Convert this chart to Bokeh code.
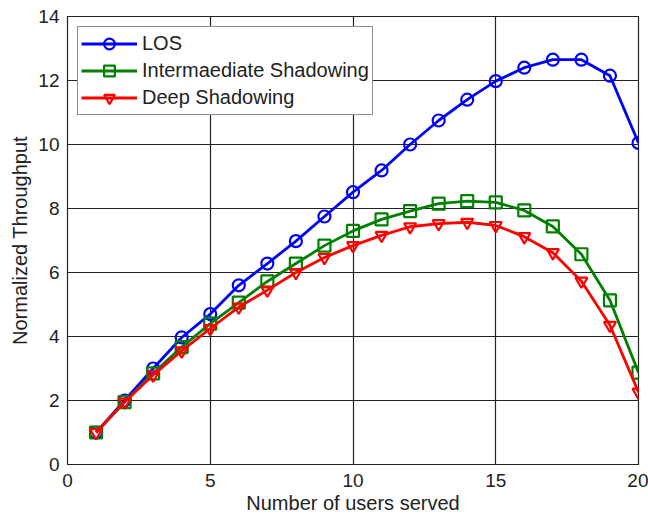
from bokeh.plotting import figure
from bokeh.models import Range1d, SingleIntervalTicker
from bokeh.embed import file_html
from bokeh.resources import INLINE

# Number of users served
users = list(range(1, 21))

# Normalized throughput per channel condition
los = [1.0, 2.0, 3.0, 3.97, 4.7, 5.6, 6.28, 6.98, 7.75, 8.51, 9.19, 10.0,
       10.75, 11.4, 11.98, 12.4, 12.65, 12.65, 12.15, 10.05]
intermediate = [1.0, 1.95, 2.85, 3.67, 4.4, 5.06, 5.72, 6.28, 6.84, 7.3, 7.66, 7.92,
                8.15, 8.23, 8.19, 7.94, 7.44, 6.57, 5.13, 2.87]
deep = [1.0, 1.95, 2.8, 3.55, 4.25, 4.92, 5.45, 6.0, 6.47, 6.84, 7.16, 7.43,
        7.53, 7.57, 7.47, 7.12, 6.62, 5.73, 4.35, 2.26]

FONT = "Liberation Sans"

p = figure(width=648, height=519, output_backend="svg", toolbar_location=None,
           x_range=Range1d(0, 20), y_range=Range1d(0, 14),
           min_border_left=67, min_border_right=10, min_border_top=16, min_border_bottom=55)

p.xaxis.ticker = SingleIntervalTicker(interval=5)
p.yaxis.ticker = SingleIntervalTicker(interval=2)
p.xaxis.minor_tick_line_color = None
p.yaxis.minor_tick_line_color = None
for ax in (p.xaxis, p.yaxis):
    ax.major_tick_in = 4
    ax.major_tick_out = 0
    ax.axis_line_color = "#222222"
    ax.major_tick_line_color = "#222222"
    ax.major_label_text_font = FONT
    ax.major_label_text_font_size = "19px"
    ax.major_label_text_color = "#222222"
    ax.axis_label_text_font = FONT
    ax.axis_label_text_font_size = "20px"
    ax.axis_label_text_font_style = "normal"
    ax.axis_label_text_color = "#222222"
p.xaxis.axis_label = "Number of users served"
p.yaxis.axis_label = "Normalized Throughput"
p.xaxis.major_label_standoff = 5
p.yaxis.major_label_standoff = 4
p.xaxis.axis_label_standoff = 2
p.yaxis.axis_label_standoff = 4

p.xgrid.grid_line_color = "#222222"
p.ygrid.grid_line_color = "#222222"
p.xgrid.grid_line_width = 1.2
p.ygrid.grid_line_width = 1.2
p.outline_line_color = "#222222"
p.outline_line_width = 1.2

series = [
    (los, "#0000ff", "circle", "LOS"),
    (intermediate, "#008000", "square", "Intermaediate Shadowing"),
    (deep, "#ff0000", "inverted_triangle", "Deep Shadowing"),
]
for vals, color, marker, label in series:
    p.line(users, vals, line_color=color, line_width=2.8, legend_label=label)
    p.scatter(users, vals, marker=marker, size=12, line_color=color, line_width=2.2,
              fill_color=None, legend_label=label)

p.legend.location = "top_left"
p.legend.margin = 10
p.legend.padding = 3
p.legend.spacing = 0
p.legend.glyph_width = 56
p.legend.glyph_height = 27
p.legend.label_height = 27
p.legend.label_standoff = 5
p.legend.label_text_font = FONT
p.legend.label_text_font_size = "20px"
p.legend.label_text_color = "#222222"
p.legend.border_line_color = "#222222"
p.legend.border_line_width = 1.2
p.legend.background_fill_alpha = 1.0

open("out.html", "w").write(file_html(p, INLINE))
